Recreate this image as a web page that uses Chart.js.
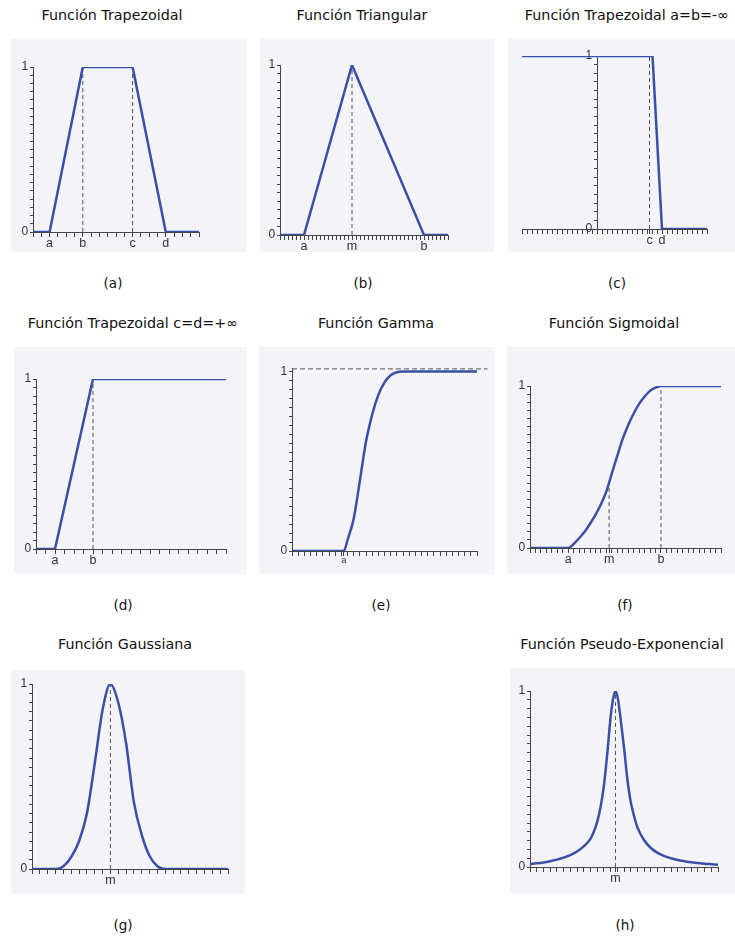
<!DOCTYPE html>
<html>
<head>
<meta charset="utf-8">
<title>Funciones de pertenencia</title>
<script src="https://cdn.jsdelivr.net/npm/chart.js@4.4.0/dist/chart.umd.min.js"></script>
<style>
  html,body{
    margin: 0;
    padding: 0;
    background: #fff;
    width: 735px;
    height: 938px;
    overflow: hidden;
  }
  body{
    position: relative;
    font-family: "DejaVu Sans", sans-serif;
    color: #111;
  }
  .panel{
    position: absolute;
    background: #f3f3f8;
  }
  .panel canvas{ display: block; }
  .texto{
    position: absolute;
    white-space: nowrap;
    transform: translate(-50%, -50%);
    font-size: 14.3px;
  }
  .letra{ font-size: 13.5px; }
</style>
</head>
<body>
<script>
  // (a) Función Trapezoidal
  const trapX = [0, 2, 6, 12, 16, 20]
  const trapY = [0, 0, 1, 1, 0, 0]
  const trapLabels = ['a', 'b', 'c', 'd']
  const trapLabelX = [2, 6, 12, 16]
  const trapGuiaX = [6, 12]
  const trapGuiaY = [1, 1]

  // (b) Función Triangular
  const triX = [0, 6, 18, 36, 42]
  const triY = [0, 0, 1, 0, 0]
  const triLabels = ['a', 'm', 'b']
  const triLabelX = [6, 18, 36]
  const triGuiaX = [18]
  const triGuiaY = [1]

  // (c) Trapezoidal a=b=-inf
  const izqX = [-15, 11.1, 13, 22]
  const izqY = [1, 1, 0, 0]
  const izqLabels = ['c', 'd']
  const izqLabelX = [10.5, 13]
  const izqGuiaX = [10.5]
  const izqGuiaY = [1]

  // (d) Trapezoidal c=d=+inf
  const derX = [0, 2, 6, 20]
  const derY = [0, 0, 1, 1]
  const derLabels = ['a', 'b']
  const derLabelX = [2, 6]
  const derGuiaX = [6]
  const derGuiaY = [1]

  // (e) Función Gamma
  const gammaX = [0, 8.4, 9, 10, 11, 12, 13, 14, 15, 16, 17, 18, 30]
  const gammaY = [0, 0, 0.06, 0.18, 0.39, 0.61, 0.76, 0.87, 0.94, 0.98, 0.996, 1, 1]
  const gammaLabels = ['a']
  const gammaLabelX = [8.4]
  const gammaAsintota = 1.015

  // (f) Función Sigmoidal
  const sigX = [0, 7, 8, 9, 10, 11, 12, 13, 14, 15, 16, 17, 18, 19, 20, 21, 22, 23, 24, 35]
  const sigY = [0, 0, 0.025, 0.06, 0.1, 0.15, 0.205, 0.27, 0.35, 0.46, 0.57, 0.675, 0.76, 0.83, 0.89, 0.935, 0.97, 0.99, 1, 1]
  const sigLabels = ['a', 'm', 'b']
  const sigLabelX = [7, 14.5, 24]
  const sigGuiaX = [14.5, 24]
  const sigGuiaY = [0.42, 1]

  // (g) Función Gaussiana
  const gaussX = [0, 3, 4, 5, 6, 7, 8, 9, 10, 11, 12, 13, 14, 15, 16, 17, 25]
  const gaussY = [0, 0, 0.015, 0.065, 0.15, 0.3, 0.57, 0.86, 1, 0.9, 0.68, 0.36, 0.185, 0.07, 0.015, 0, 0]
  const gaussLabels = ['m']
  const gaussLabelX = [10]
  const gaussGuiaX = [10]
  const gaussGuiaY = [1]

  // (h) Función Pseudo-Exponencial
  const pseX = [0, 1, 2, 3, 4, 5, 6, 7, 8, 9, 9.5, 10, 10.5, 11, 11.5, 12, 12.4, 12.73, 13.1, 13.5, 14, 14.5, 15, 15.5, 16, 17, 18, 19, 20, 21, 22, 23, 24, 25, 26, 27, 28]
  const pseY = [0.017, 0.021, 0.026, 0.033, 0.042, 0.053, 0.068, 0.088, 0.117, 0.16, 0.2, 0.255, 0.34, 0.46, 0.64, 0.85, 0.96, 1, 0.955, 0.84, 0.68, 0.5, 0.37, 0.29, 0.225, 0.152, 0.108, 0.08, 0.062, 0.05, 0.04, 0.033, 0.027, 0.023, 0.019, 0.016, 0.013]
  const pseLabels = ['m']
  const pseLabelX = [12.73]
  const pseGuiaX = [12.73]
  const pseGuiaY = [1]

  const AZUL = '#3850a6'
  const GRIS = '#555'
  const EJE = '#444'

  function pares(xs, ys){
    return xs.map((x, i) => ({x: x, y: ys[i]}))
  }

  function crearTexto(x, y, txt, clase){
    const d = document.createElement('div')
    d.className = 'texto ' + (clase || '')
    d.style.left = x + 'px'
    d.style.top = y + 'px'
    d.textContent = txt
    document.body.appendChild(d)
  }

  function crearPanel(p){
    const [bx, by, bw, bh] = p.caja
    const [ax0, ay0, ax1, ay1] = p.area
    const div = document.createElement('div')
    div.className = 'panel'
    div.style.left = bx + 'px'
    div.style.top = by + 'px'
    div.style.width = bw + 'px'
    div.style.height = bh + 'px'
    const canvas = document.createElement('canvas')
    canvas.width = bw
    canvas.height = bh
    div.appendChild(canvas)
    document.body.appendChild(div)

    crearTexto(p.titulo[0], p.titulo[1], p.titulo[2])
    crearTexto(p.letra[0], p.letra[1], p.letra[2], 'letra')

    // ticks menores del eje x, mas las posiciones de las letras
    let xTicks = []
    for(let v = p.xmin; v <= p.xmax + 1e-9; v += 1){ xTicks.push(Math.round(v * 1000) / 1000) }
    p.labelX.forEach(v => {
      if(!xTicks.some(t => Math.abs(t - v) < 1e-6)) xTicks.push(v)
    })
    xTicks.sort((a, b) => a - b)
    let yTicks = []
    for(let i = 0; i <= 20; i++){ yTicks.push(i / 20) }

    const datasets = [{
      data: pares(p.xs, p.ys),
      borderColor: AZUL,
      borderWidth: 2.5,
      pointRadius: 0,
      fill: false,
      tension: p.suave ? 0.4 : 0,
      cubicInterpolationMode: p.suave ? 'monotone' : 'default'
    }]
    ;(p.guiaX || []).forEach((gx, i) => {
      datasets.push({
        data: [{x: gx, y: 0}, {x: gx, y: p.guiaY[i]}],
        borderColor: GRIS, borderWidth: 1, borderDash: [4, 3], pointRadius: 0, fill: false
      })
    })
    if(p.asintota !== undefined){
      datasets.push({
        data: [{x: p.xmin, y: p.asintota}, {x: p.xmax + 1.7, y: p.asintota}],
        borderColor: GRIS, borderWidth: 1, borderDash: [5, 3], pointRadius: 0, fill: false, clip: false
      })
    }

    // etiquetas 0 y 1 con un pequeño hueco antes del eje
    const yLabel = (v) => {
      if(Math.abs(v) < 1e-6) return '0\u2009\u2009'
      if(Math.abs(v - 1) < 1e-6) return '1\u2009\u2009'
      return ''
    }

    new Chart(canvas, {
      type: 'line',
      data: { datasets: datasets },
      options: {
        responsive: false,
        animation: false,
        events: [],
        layout: { padding: { left: ax0 - bx, top: ay0 - by, right: bx + bw - ax1, bottom: by + bh - ay1 } },
        plugins: { legend: { display: false }, tooltip: { enabled: false } },
        scales: {
          x: {
            type: 'linear', min: p.xmin, max: p.xmax, position: { y: 0 },
            afterFit: s => { s.height = 0 },
            afterBuildTicks: s => { s.ticks = xTicks.map(v => ({value: v})) },
            grid: { drawOnChartArea: false, tickLength: 4, color: EJE, lineWidth: 1 },
            border: { color: EJE, width: 1 },
            ticks: {
              autoSkip: false, maxRotation: 0, padding: 0, color: '#333',
              font: { family: 'Liberation Sans', size: p.letraEje || 12.5 },
              callback: (v) => {
                const i = p.labelX.findIndex(t => Math.abs(t - v) < 1e-6)
                return i >= 0 ? p.labels[i] : ''
              }
            }
          },
          y: {
            type: 'linear', min: 0, max: p.ymax || 1,
            position: { x: p.ejeCentro ? 0 : p.xmin },
            afterFit: s => { s.width = 0 },
            afterBuildTicks: s => { s.ticks = yTicks.map(v => ({value: v})) },
            grid: { drawOnChartArea: false, tickLength: 3, color: EJE, lineWidth: 1 },
            border: { color: EJE, width: 1 },
            ticks: {
              autoSkip: false, padding: 1, color: '#333',
              font: { family: 'Liberation Sans', size: 12 },
              callback: yLabel
            }
          }
        }
      }
    })
  }

  const paneles = [
    { caja: [11, 39, 236, 213], area: [33, 67, 199, 232], xmin: 0, xmax: 20,
      xs: trapX, ys: trapY, labels: trapLabels, labelX: trapLabelX, guiaX: trapGuiaX, guiaY: trapGuiaY,
      titulo: [112, 15, 'Función Trapezoidal'], letra: [113, 283, '(a)'] },
    { caja: [260, 39, 234, 213], area: [280, 65, 448, 235], xmin: 0, xmax: 42,
      xs: triX, ys: triY, labels: triLabels, labelX: triLabelX, guiaX: triGuiaX, guiaY: triGuiaY,
      titulo: [362, 15, 'Función Triangular'], letra: [363, 283, '(b)'] },
    { caja: [508, 39, 227, 213], area: [522, 56, 707, 229], xmin: -15, xmax: 22, ejeCentro: true,
      xs: izqX, ys: izqY, labels: izqLabels, labelX: izqLabelX, guiaX: izqGuiaX, guiaY: izqGuiaY,
      titulo: [627, 15, 'Función Trapezoidal a=b=-∞'], letra: [617, 283, '(c)'] },
    { caja: [14, 347, 233, 227], area: [36, 379, 226, 549], xmin: 0, xmax: 20,
      xs: derX, ys: derY, labels: derLabels, labelX: derLabelX, guiaX: derGuiaX, guiaY: derGuiaY,
      titulo: [133, 323, 'Función Trapezoidal c=d=+∞'], letra: [123, 605, '(d)'] },
    { caja: [259, 347, 236, 227], area: [292, 368, 477, 551], xmin: 0, xmax: 30, ymax: 1.02, suave: true,
      xs: gammaX, ys: gammaY, labels: gammaLabels, labelX: gammaLabelX, asintota: gammaAsintota, letraEje: 9.5,
      titulo: [376, 323, 'Función Gamma'], letra: [381, 605, '(e)'] },
    { caja: [507, 347, 228, 227], area: [530, 386, 721, 548], xmin: 0, xmax: 35, suave: true,
      xs: sigX, ys: sigY, labels: sigLabels, labelX: sigLabelX, guiaX: sigGuiaX, guiaY: sigGuiaY,
      titulo: [614, 323, 'Función Sigmoidal'], letra: [625, 605, '(f)'] },
    { caja: [11, 670, 234, 224], area: [32, 684, 228, 869], xmin: 0, xmax: 25, suave: true,
      xs: gaussX, ys: gaussY, labels: gaussLabels, labelX: gaussLabelX, guiaX: gaussGuiaX, guiaY: gaussGuiaY,
      titulo: [125, 644, 'Función Gaussiana'], letra: [123, 925, '(g)'] },
    { caja: [510, 668, 225, 226], area: [530, 691, 718, 867], xmin: 0, xmax: 28, suave: true,
      xs: pseX, ys: pseY, labels: pseLabels, labelX: pseLabelX, guiaX: pseGuiaX, guiaY: pseGuiaY,
      titulo: [622, 644, 'Función Pseudo-Exponencial'], letra: [625, 925, '(h)'] }
  ]

  paneles.forEach(p => crearPanel(p))
</script>
</body>
</html>
